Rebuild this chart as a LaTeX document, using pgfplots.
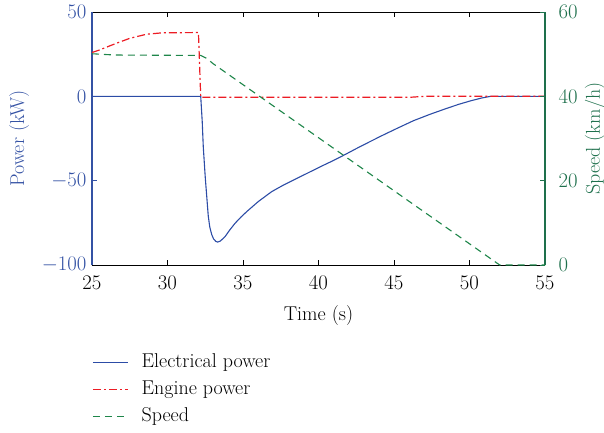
\documentclass[border=0pt]{standalone}
\usepackage{pgfplots}
\pgfplotsset{compat=1.18}

\definecolor{pblue}{RGB}{44,76,166}
\definecolor{axblue}{RGB}{52,82,164}
\definecolor{pred}{RGB}{236,28,36}
\definecolor{pgreen}{RGB}{30,134,74}
\definecolor{axgreen}{RGB}{30,112,76}

\newcommand{\chartfont}{\fontsize{20}{24}\selectfont}

\pgfplotsset{
  elecline/.style={draw=pblue, line width=1.1pt},
  engineline/.style={draw=pred, line width=1.2pt, dash pattern=on 8pt off 3pt on 2pt off 3pt},
  speedline/.style={draw=pgreen, line width=1.1pt, dash pattern=on 7pt off 5pt},
}

\begin{document}
\begin{tikzpicture}
% Page frame: the axis box spans (0,0)--(453pt,253pt)
\useasboundingbox (-92pt,-167pt) rectangle (512pt,265pt);

% Power axis (left)
\begin{axis}[
  name=main,
  scale only axis,
  width=453pt, height=253pt,
  xmin=25, xmax=55, ymin=-100, ymax=50,
  xtick={25,30,...,55}, ytick={-100,-50,0,50},
  axis x line=box, axis y line*=left,
  xtick pos=both, xticklabel pos=bottom,
  ytick pos=left,
  tick align=inside,
  major tick length=5pt,
  x axis line style={black, line width=0.9pt},
  y axis line style={axblue, line width=1.3pt},
  every tick/.style={line width=0.8pt},
  x tick style={black},
  y tick style={axblue},
  tick label style={font=\chartfont},
  xticklabel style={yshift=-8pt},
  yticklabel style={text=axblue, xshift=-2pt},
  label style={font=\chartfont},
  xlabel={Time (s)},
  xlabel style={at={(axis description cs:0.5,-0.2)}, anchor=center},
  ylabel={Power (kW)},
  ylabel style={text=axblue, at={(axis description cs:-0.161,0.5)}, anchor=center},
  clip=false,
]
\addplot[elecline] coordinates {
  (25,0) (32.2,0) (32.3,-15) (32.37,-30) (32.5,-48) (32.6,-59.5)
  (32.7,-71) (32.8,-77.5) (32.93,-82) (33.05,-84.5) (33.2,-86)
  (33.32,-86.4) (33.5,-85.8) (33.81,-83.2) (34.1,-79.5) (34.47,-75.3)
  (34.85,-71.7) (35.24,-68.4) (36.01,-62.4) (36.9,-56.5) (37.6,-53)
  (38.44,-49.2) (39.3,-45.4) (40.13,-41.7) (41,-38) (41.7,-34.8)
  (42.5,-31) (43.2,-27.8) (44.2,-23.3) (45.2,-19) (46.3,-14.4)
  (47.4,-10.6) (48.5,-7.1) (49.3,-4.7) (50.1,-2.6) (50.8,-1)
  (51.4,0) (55,0)
};
\addplot[engineline] coordinates {
  (25,26) (25.5,27.5) (26,29.3) (26.6,31.4) (27.5,34.4) (28.6,36.8)
  (29.7,37.7) (31.9,37.8) (32.05,37.8) (32.2,-0.6) (46,-0.6) (47,0) (55,0)
};
\end{axis}

% Speed axis (right)
\begin{axis}[
  scale only axis,
  width=453pt, height=253pt,
  xmin=25, xmax=55, ymin=0, ymax=60,
  ytick={0,20,40,60},
  axis x line=none, axis y line*=right,
  ytick pos=right,
  tick align=inside,
  major tick length=5pt,
  y axis line style={axgreen, line width=1.3pt},
  every tick/.style={line width=0.8pt},
  y tick style={axgreen},
  tick label style={font=\chartfont},
  yticklabel style={text=axgreen, xshift=10pt},
  label style={font=\chartfont},
  ylabel={Speed (km/h)},
  ylabel style={text=axgreen, at={(axis description cs:1.110,0.5)}, anchor=center},
  legend style={
    at={(0,-0.342)}, anchor=north west,
    draw=none, fill=none, font=\chartfont,
    inner sep=0pt, row sep=4pt, column sep=11pt,
    nodes={inner sep=2pt, text height=14pt, text depth=5pt},
  },
  legend cell align=left,
  legend image code/.code={
    \draw[#1] (0pt,1pt) -- (35pt,1pt);
  },
  clip=false,
]
\addlegendimage{draw=pblue, line width=1.1pt}
\addlegendentry{Electrical power}
\addlegendimage{draw=pred, line width=1.4pt, dash pattern=on 8pt off 3pt on 2pt off 3pt}
\addlegendentry{Engine power}
\addplot[speedline] coordinates {
  (25,50.1) (26.5,49.8) (32.2,49.7) (32.6,49.0) (33,47.8)
  (52,0) (55,0)
};
\addlegendentry{Speed}
\end{axis}
\end{tikzpicture}
\end{document}
